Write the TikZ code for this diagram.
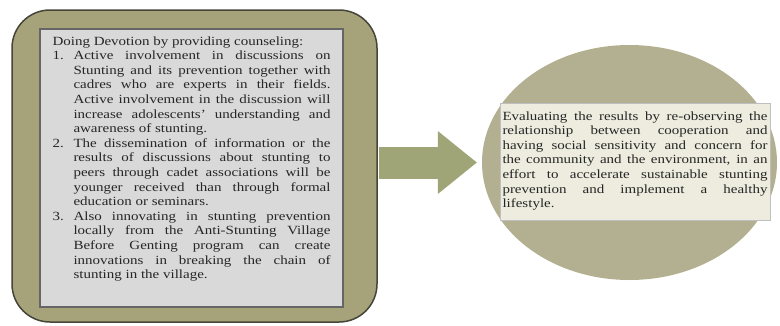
\documentclass[tikz,border=0pt]{standalone}
\usepackage{fontspec}
\setmainfont{Liberation Serif}[FakeStretch=1.2]
\usepackage{tikz}
\usetikzlibrary{arrows.meta,shapes.geometric}
\tikzset{>={Triangle[length=39pt,width=63pt,line width=0pt]}}
\definecolor{boxolive}{HTML}{A6A37B}
\definecolor{frameline}{HTML}{45453A}
\definecolor{arrowolive}{HTML}{A0A577}
\definecolor{ellolive}{HTML}{B3B091}
\definecolor{stepgrey}{HTML}{D9D9D9}
\definecolor{notebeige}{HTML}{EDECDF}
\newcommand{\stepitem}[2]{\par\hangindent=21pt\hangafter=1\noindent\makebox[21pt][l]{#1}#2}

\begin{document}
\begin{tikzpicture}[x=1pt, y=-1pt, every node/.style={font=\fontsize{12.5}{14.6}\selectfont, text=black!85}]
  \useasboundingbox (0,0) rectangle (780,325);
  \node (frame) at (194.5,166) [rectangle,rounded corners=38pt,draw=frameline,line width=1.5pt,fill=boxolive,minimum width=365pt,minimum height=312pt] {};
  \node (steps) at (191.5,45) [anchor=base,draw=black!60,line width=1.2pt,fill=stepgrey,text width=278pt,align=justify,inner xsep=12.5pt,inner ysep=5pt,text height=11pt,text depth=257pt] {\tolerance=9999\hyphenpenalty=10000
    \noindent Doing Devotion by providing counseling:
    \stepitem{1.}{Active involvement in discussions on\linebreak Stunting and its prevention together with\linebreak cadres who are experts in their fields.\linebreak Active involvement in the discussion will\linebreak increase adolescents' understanding and\linebreak awareness of stunting.}
    \stepitem{2.}{The dissemination of information or the\linebreak results of discussions about stunting to\linebreak peers through cadet associations will be\linebreak younger received than through formal\linebreak education or seminars.}
    \stepitem{3.}{Also innovating in stunting prevention\linebreak locally from the Anti-Stunting Village\linebreak Before Genting program can create\linebreak innovations in breaking the chain of\linebreak stunting in the village.}\par};
  \node (blob) at (629.5,162.5) [ellipse,fill=ellolive,minimum width=295pt,minimum height=235pt] {};
  \node (result) at (635,120) [anchor=base,draw=black!25,fill=notebeige,text width=265pt,align=justify,inner xsep=2.5pt,inner ysep=5pt,text height=12pt,text depth=95pt] {\tolerance=9999\hyphenpenalty=10000
    \noindent Evaluating the results by re-observing the\linebreak relationship between cooperation and\linebreak having social sensitivity and concern for\linebreak the community and the environment, in an\linebreak effort to accelerate sustainable stunting\linebreak prevention and implement a healthy\linebreak lifestyle.\par};
  \draw[->,line width=32pt,draw=arrowolive,fill=arrowolive,shorten <=1pt,shorten >=5pt] (frame.east |- blob.center) to (blob.west);
\end{tikzpicture}
\end{document}
